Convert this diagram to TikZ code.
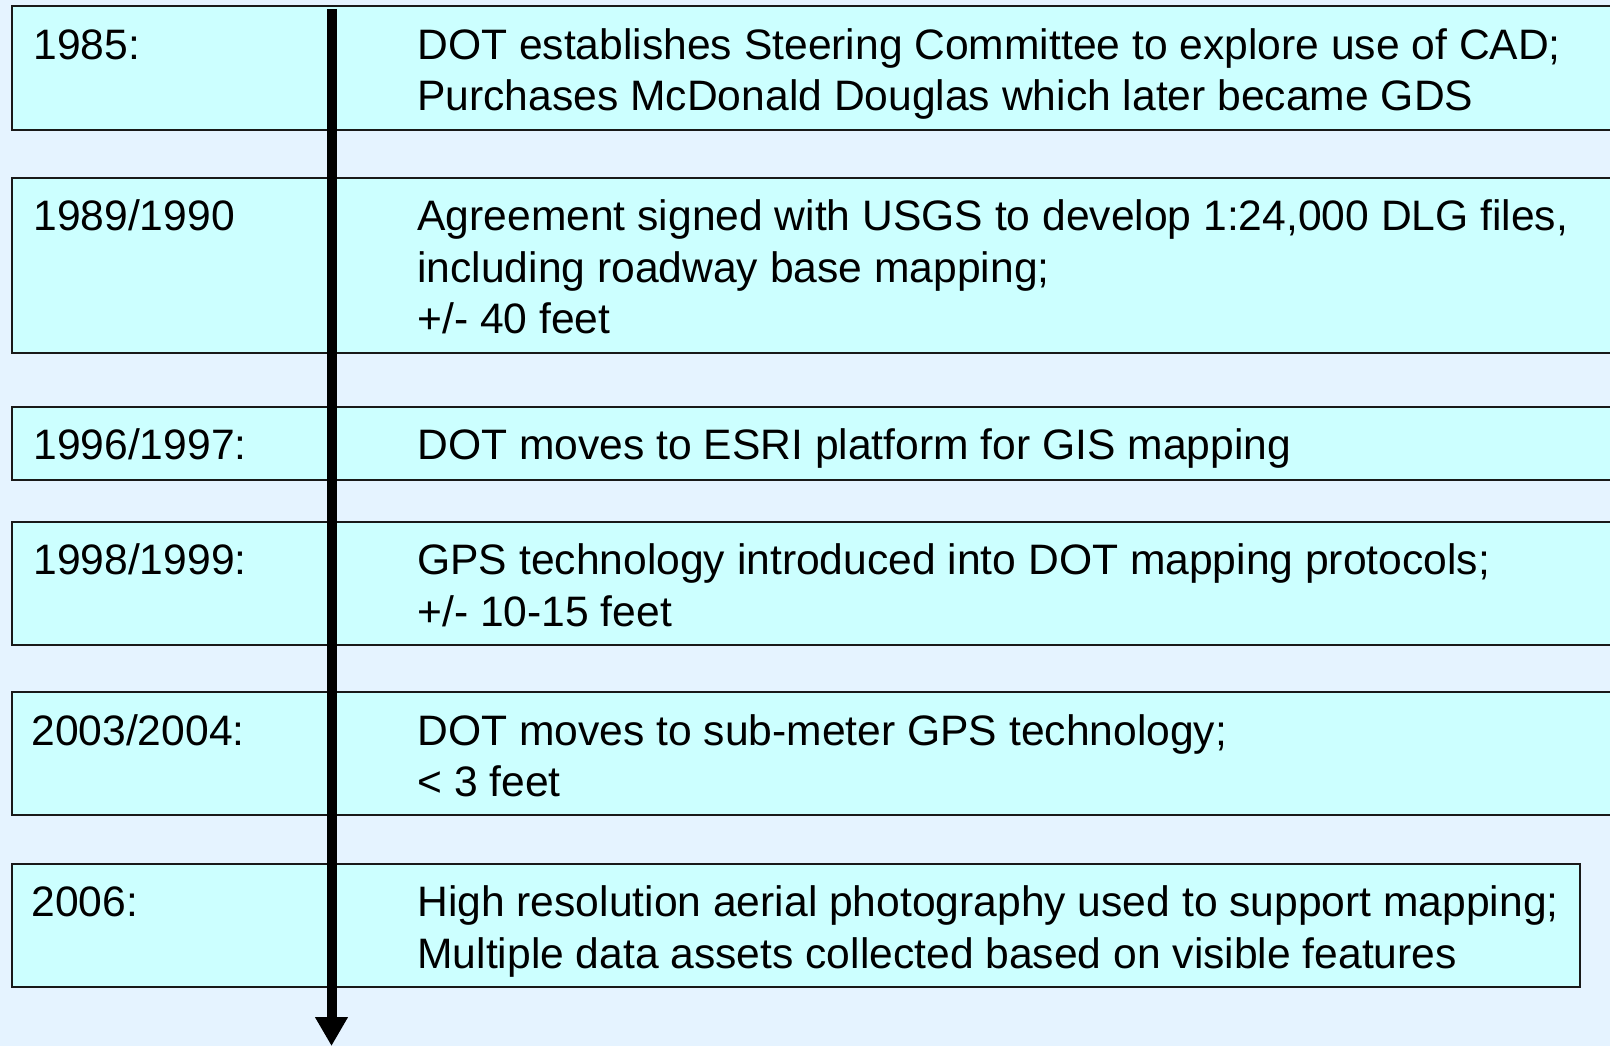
\documentclass[tikz,border=0pt]{standalone}
\usepackage{fontspec}
\setmainfont{Liberation Sans}
\usetikzlibrary{arrows.meta}
\definecolor{pagebg}{HTML}{E5F3FF}
\definecolor{boxfill}{HTML}{CCFFFF}
\tikzset{
  eventbox/.style={draw=black!90, line width=1pt, fill=boxfill, anchor=north west, inner sep=0pt},
  % multi-line nodes sit on the baseline of their last line
  yeartext/.style={anchor=base west, inner sep=0pt, align=left, font=\fontsize{21.3pt}{25.75pt}\selectfont},
  desctext/.style={anchor=base west, inner sep=0pt, align=left, font=\fontsize{21.3pt}{25.75pt}\selectfont},
  timeline/.style={line width=5pt, -{Triangle[width=15.5pt,length=14.5pt]}}
}
\begin{document}
\begin{tikzpicture}[x=0.5pt, y=-0.5pt]
  \fill[pagebg] (0,0) rectangle (1610,1046);
  \useasboundingbox (0,0) rectangle (1610,1046);

  % event boxes (x from 11, widths run off the right edge except the last)
  \node[eventbox, minimum width=804.5pt, minimum height=62pt] (b1) at (11,5) {};
  \node[eventbox, minimum width=804.5pt, minimum height=87.8pt] (b2) at (11,176.6) {};
  \node[eventbox, minimum width=804.5pt, minimum height=36.5pt] (b3) at (11,406) {};
  \node[eventbox, minimum width=804.5pt, minimum height=61.6pt] (b4) at (11,520.6) {};
  \node[eventbox, minimum width=804.5pt, minimum height=61.6pt] (b5) at (11,691) {};
  \node[eventbox, minimum width=784pt, minimum height=61.6pt] (b6) at (11,862.5) {};

  % years
  \node[yeartext] (y1) at (33,59) {1985:};
  \node[yeartext] (y2) at (33,230.6) {1989/1990};
  \node[yeartext] (y3) at (33,459) {1996/1997:};
  \node[yeartext] (y4) at (33,574.6) {1998/1999:};
  \node[yeartext] (y5) at (31,745) {2003/2004:};
  \node[yeartext] (y6) at (31,916.5) {2006:};

  % descriptions
  \node[desctext] (d1) at (417,110.5) {DOT establishes Steering Committee to explore use of CAD;\\Purchases McDonald Douglas which later became GDS};
  \node[desctext] (d2) at (417,333.6) {Agreement signed with USGS to develop 1:24,000 DLG files,\\including roadway base mapping;\\+/- 40 feet};
  \node[desctext] (d3) at (417,459) {DOT moves to ESRI platform for GIS mapping};
  \node[desctext] (d4) at (417,626.1) {GPS technology introduced into DOT mapping protocols;\\+/- 10-15 feet};
  \node[desctext] (d5) at (417,796.5) {DOT moves to sub-meter GPS technology;\\< 3 feet};
  \node[desctext] (d6) at (417,968) {High resolution aerial photography used to support mapping;\\Multiple data assets collected based on visible features};

  % time axis
  \coordinate (tstart) at (331.5,9);
  \coordinate (tend) at (331.5,1046);
  \draw[timeline] (tstart) -- (tend);
\end{tikzpicture}
\end{document}
